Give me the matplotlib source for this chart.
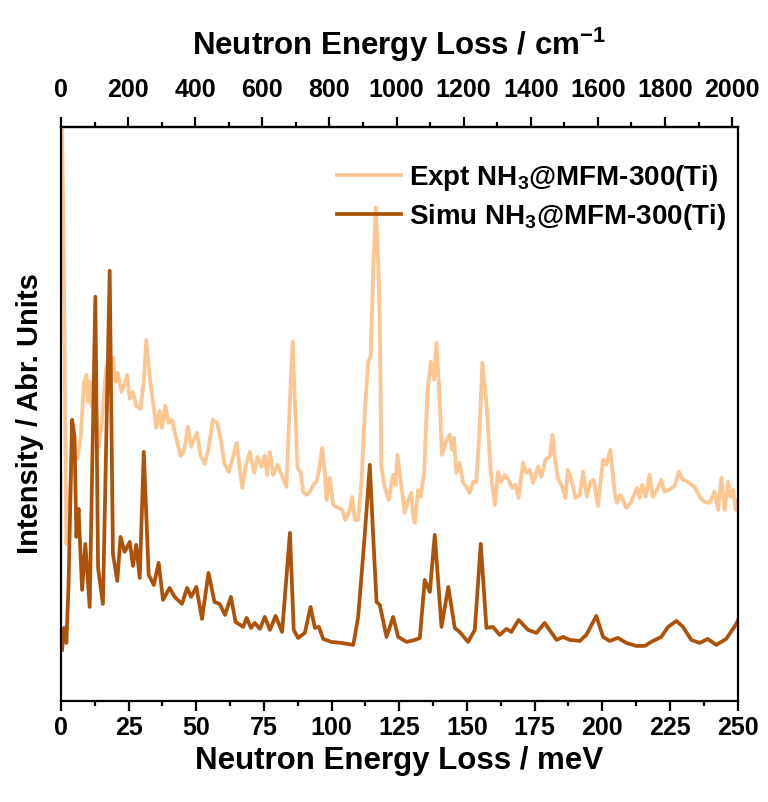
import numpy as np
import matplotlib
matplotlib.use('Agg')
import matplotlib.pyplot as plt
from matplotlib.ticker import FixedLocator

plt.rcParams['font.family'] = ['Liberation Sans', 'DejaVu Sans']
plt.rcParams['font.weight'] = 'bold'
plt.rcParams['mathtext.fontset'] = 'custom'
plt.rcParams['mathtext.rm'] = 'Liberation Sans:bold'
plt.rcParams['mathtext.bf'] = 'Liberation Sans:bold'
plt.rcParams['mathtext.default'] = 'rm'

# experimental spectrum (meV, arb. units)
energy_expt = [0.3, 1.0, 1.6, 2.0, 3.2, 4.4, 6.0, 7.3, 8.5, 9.4, 10.0, 10.6, 11.2, 12.4, 13.9, 15.1,
               16.7, 18.0, 19.2, 20.1, 21.0, 22.3, 23.5, 24.4, 25.4, 26.6, 27.8, 29.4, 30.6, 31.5,
               32.7, 34.0, 35.2, 36.4, 37.3, 38.5, 39.8, 41.0, 42.9, 44.2, 45.4, 46.9, 48.1, 50.2,
               51.6, 53.1, 54.5, 56.1, 57.7, 59.2, 60.4, 62.0, 63.6, 64.9, 66.1, 67.0, 68.2, 69.8,
               71.4, 72.6, 74.1, 75.3, 76.2, 77.2, 78.4, 80.0, 81.5, 83.3, 84.6, 85.6, 86.4, 87.4,
               88.6, 89.5, 90.7, 92.0, 93.2, 94.4, 95.4, 96.5, 97.5, 98.1, 99.3, 100.6, 102.4, 103.9,
               105.1, 106.4, 107.6, 108.6, 109.8, 111.0, 112.3, 113.5, 114.4, 115.5, 116.3, 117.2,
               117.8, 118.4, 119.6, 121.1, 122.7, 123.6, 124.3, 125.6, 127.0, 128.3, 129.5, 130.1,
               130.7, 132.0, 132.9, 134.2, 135.4, 136.6, 137.9, 138.7, 139.6, 140.8, 142.1, 143.6,
               144.5, 145.2, 146.1, 147.3, 148.6, 149.8, 151.0, 152.3, 153.5, 154.7, 155.7, 157.2,
               158.8, 160.3, 161.5, 162.5, 164.0, 165.4, 166.7, 167.9, 169.1, 170.7, 172.0, 173.2,
               174.4, 176.3, 177.5, 179.0, 180.6, 181.6, 182.4, 183.6, 184.9, 186.4, 187.3, 188.6,
               190.1, 191.7, 192.9, 194.3, 195.6, 196.8, 198.4, 200.3, 201.5, 203.0, 204.6, 205.4,
               206.7, 208.9, 210.7, 212.8, 213.8, 214.8, 216.0, 217.5, 218.7, 220.2, 221.8, 223.0,
               224.6, 226.7, 228.3, 229.8, 231.6, 234.1, 236.0, 237.8, 239.7, 241.5, 242.8, 244.0,
               245.2, 246.5, 247.4, 248.3, 249.3, 250.0]
int_expt = [600, 450, 271, 157, 202, 264, 242, 264, 319, 326, 299, 319, 295, 312, 254, 278,
            333, 343, 343, 319, 328, 309, 316, 326, 302, 309, 295, 292, 319, 361,
            326, 299, 273, 290, 273, 295, 278, 281, 259, 245, 249, 274, 254, 268,
            245, 237, 252, 281, 278, 259, 237, 229, 244, 258, 231, 213, 234, 249,
            228, 244, 234, 245, 226, 249, 226, 236, 226, 214, 301, 359, 301, 233,
            228, 209, 206, 209, 216, 219, 231, 253, 228, 201, 223, 196, 193, 191,
            181, 188, 204, 181, 181, 218, 291, 339, 344, 440, 493, 440,
            380, 234, 214, 201, 226, 216, 246, 219, 188, 201, 208, 184,
            178, 211, 204, 228, 308, 339, 321, 358, 318, 246, 258, 266,
            251, 263, 228, 238, 218, 214, 208, 219, 219, 274, 338, 298,
            228, 196, 229, 219, 226, 221, 213, 216, 203, 238, 228, 231,
            218, 234, 224, 241, 244, 266, 244, 223, 216, 203, 231, 221,
            203, 206, 229, 204, 219, 221, 195, 241, 236, 251, 208, 198,
            206, 193, 199, 213, 203, 216, 204, 226, 204, 211, 221, 209,
            211, 215, 229, 221, 219, 214, 204, 199, 198, 209, 191, 223,
            191, 219, 204, 211, 191, 200]

# simulated spectrum (meV, arb. units)
energy_simu = [0.4, 1.1, 2.0, 2.8, 4.1, 5.0, 5.7, 6.5, 7.8, 9.0, 10.6, 12.7, 13.7, 15.5, 18.0,
               19.2, 20.8, 22.0, 23.5, 25.4, 26.6, 27.8, 29.1, 30.6, 32.4, 34.3, 36.1, 37.7, 40.1,
               42.0, 44.7, 46.6, 48.1, 50.0, 52.1, 54.5, 56.7, 58.6, 60.6, 62.8, 64.5, 67.3, 68.6,
               70.2, 71.6, 73.5, 75.3, 77.2, 79.3, 81.7, 84.6, 86.0, 87.6, 90.1, 92.2, 93.8, 95.3,
               96.9, 99.9, 103.6, 108.0, 109.8, 111.0, 112.3, 114.1, 115.3, 116.6, 117.8, 120.3,
               122.7, 124.6, 127.7, 130.7, 132.6, 134.4, 136.3, 138.1, 140.6, 143.1, 145.5, 147.3,
               150.4, 152.9, 155.1, 157.2, 159.6, 162.1, 164.6, 166.4, 169.1, 172.6, 175.7, 178.7,
               183.1, 185.5, 188.0, 191.7, 194.1, 197.8, 200.3, 202.7, 205.8, 208.9, 212.6, 215.7,
               218.7, 221.8, 224.3, 227.4, 229.8, 232.9, 236.0, 239.0, 242.1, 245.8, 249.5, 250.0]
int_simu = [51, 73, 58, 116, 281, 264, 164, 192, 111, 157, 94, 404, 133, 97, 430,
            147, 120, 164, 149, 159, 135, 156, 123, 249, 126, 116, 138, 101, 113,
            104, 97, 113, 104, 114, 82, 128, 99, 97, 86, 104, 79, 74, 83,
            73, 78, 72, 84, 71, 85, 69, 168, 71, 63, 68, 94, 73, 74,
            62, 59, 58, 56, 84, 124, 168, 236, 168, 99, 96, 64,
            84, 64, 59, 61, 63, 121, 109, 166, 74, 114, 73, 69,
            59, 71, 157, 73, 74, 66, 72, 69, 81, 71, 68, 78,
            61, 64, 61, 60, 66, 85, 64, 60, 63, 58, 55, 55,
            60, 64, 74, 80, 74, 61, 58, 62, 56, 62, 77, 80]

mev_ticks = list(range(0, 251, 25))
cm_ticks = list(range(0, 2001, 200))
mev_to_cm = 8.0655

fig = plt.figure(figsize=(7.68, 8.02), dpi=100)
ax = fig.add_axes([0.0794, 0.126, 0.881, 0.716])

ax.plot(energy_expt, int_expt, color='#FCC591', lw=2.7, solid_joinstyle='round',
        label=r'Expt NH$_3$@MFM-300(Ti)')
ax.plot(energy_simu, int_simu, color='#AD5309', lw=2.7, solid_joinstyle='round',
        label=r'Simu NH$_3$@MFM-300(Ti)')

ax.set_xlim(0, 250)
ax.set_ylim(0, 574)
ax.set_yticks([])
ax.xaxis.set_major_locator(FixedLocator(mev_ticks))
ax.xaxis.set_minor_locator(FixedLocator([t + 12.5 for t in mev_ticks[:-1]]))
ax.tick_params(axis='x', which='major', direction='out', length=7, width=1.6, labelsize=18, pad=4)
ax.tick_params(axis='x', which='minor', direction='out', length=3.5, width=1.6)
for s in ax.spines.values():
    s.set_linewidth(1.6)

ax.set_xlabel('Neutron Energy Loss / meV', fontsize=22.5, fontweight='bold', labelpad=4)
ax.set_ylabel('Intensity / Abr. Units', fontsize=21, fontweight='bold', labelpad=12)

top = ax.secondary_xaxis('top', functions=(lambda e: e * mev_to_cm, lambda w: w / mev_to_cm))
top.xaxis.set_major_locator(FixedLocator(cm_ticks))
top.xaxis.set_minor_locator(FixedLocator([t + 100 for t in cm_ticks[:-1]]))
top.tick_params(axis='x', which='major', direction='out', length=7, width=1.6, labelsize=18, pad=11)
top.tick_params(axis='x', which='minor', direction='out', length=3.5, width=1.6)
top.spines['top'].set_linewidth(1.6)
top.set_xlabel(r'Neutron Energy Loss / cm$^{-1}$', fontsize=22.5, fontweight='bold', labelpad=16)

leg = ax.legend(loc='upper right', bbox_to_anchor=(1.02, 0.98), frameon=False, fontsize=20,
                handlelength=2.3, handletextpad=0.3, labelspacing=0.3)

fig.savefig('out.png', dpi=100)
